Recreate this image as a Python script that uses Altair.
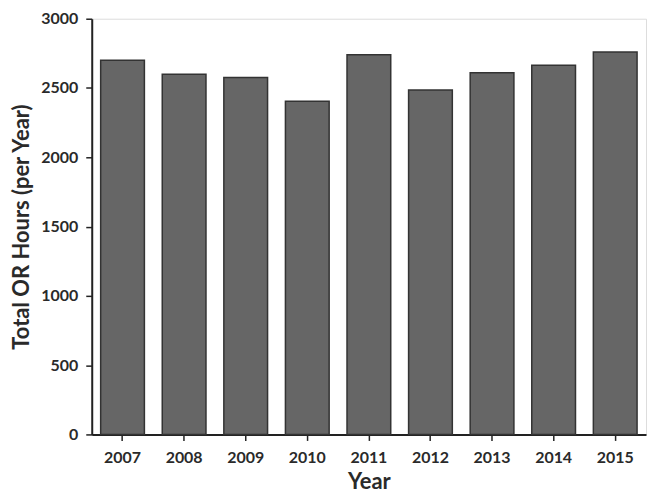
import altair as alt
import pandas as pd

years = ["2007", "2008", "2009", "2010", "2011", "2012", "2013", "2014", "2015"]
hours = [2700, 2600, 2575, 2405, 2740, 2485, 2610, 2665, 2760]

df = pd.DataFrame({"Year": years, "Hours": hours})

FONT = "Lato"
TXT = "#2a2a2a"

bars = alt.Chart(df).mark_bar(
    color="#666666", stroke="#333333", strokeWidth=1.5
).encode(
    x=alt.X("Year:O", title="Year",
            scale=alt.Scale(paddingInner=0.29, paddingOuter=0.145),
            axis=alt.Axis(labelAngle=0, labelFont=FONT, labelFontSize=16,
                          labelFontWeight="bold", labelColor=TXT,
                          labelPadding=9, tickSize=6, tickWidth=1.5,
                          tickColor="#222222", domainColor="#222222",
                          domainWidth=2, titleFont=FONT, titleFontSize=22,
                          titleFontWeight="bold", titleColor=TXT,
                          titlePadding=6)),
    y=alt.Y("Hours:Q", title="Total OR Hours (per Year)",
            scale=alt.Scale(domain=[0, 3000]),
            axis=alt.Axis(values=[0, 500, 1000, 1500, 2000, 2500, 3000],
                          format="d",
                          grid=False, labelFont=FONT, labelFontSize=16,
                          labelFontWeight="bold", labelColor=TXT,
                          labelPadding=8, tickSize=6, tickWidth=1.5,
                          tickColor="#222222", domainColor="#222222",
                          domainWidth=2, titleFont=FONT, titleFontSize=22,
                          titleFontWeight="bold", titleColor=TXT,
                          titlePadding=7)),
)

chart = bars.properties(
    width=556, height=417,
    autosize=alt.AutoSizeParams(type="none"),
    padding={"left": 84, "top": 10, "right": 2, "bottom": 58},
).configure_view(stroke=None).configure(background="white")

chart.save("out.html", embed_options={"renderer": "svg", "actions": False})
